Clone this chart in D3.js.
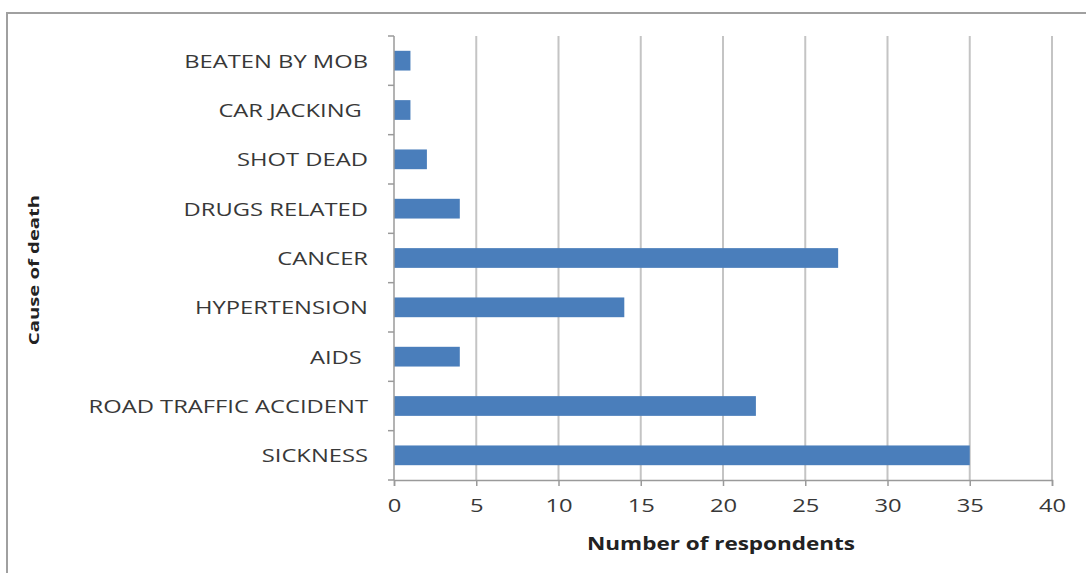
<!DOCTYPE html>
<html>
<head>
<meta charset="utf-8">
<script src="https://cdn.jsdelivr.net/npm/d3@7"></script>
<style>
  body { margin: 0; background: #fff; }
  svg text { font-family: "Open Sans", "Liberation Sans", sans-serif; }
</style>
</head>
<body>
<div id="chart"></div>
<script>
// data, top to bottom as drawn
const causes = ["BEATEN BY MOB", "CAR JACKING ", "SHOT DEAD", "DRUGS RELATED", "CANCER",
                "HYPERTENSION", "AIDS ", "ROAD TRAFFIC ACCIDENT", "SICKNESS"];
const respondents = [1, 1, 2, 4, 27, 14, 4, 22, 35];
const xTicks = [0, 5, 10, 15, 20, 25, 30, 35, 40];

const dims = { width: 1086, height: 573 };
const margin = { top: 36, right: 34, bottom: 93, left: 394 };
const plotW = dims.width - margin.left - margin.right;
const plotH = dims.height - margin.top - margin.bottom;
const stretch = 1.25; // the source picture is widened horizontally

var svg = d3.select("#chart")
            .append("svg")
            .attr("width", dims.width)
            .attr("height", dims.height);

// outer frame
svg.append("rect")
   .attr("x", 7).attr("y", 13)
   .attr("width", dims.width + 10).attr("height", dims.height + 10)
   .attr("fill", "none")
   .attr("stroke", "#a0a0a0")
   .attr("stroke-width", 2);

var g = svg.append("g").attr("transform", `translate(${margin.left},${margin.top})`);

var x = d3.scaleLinear().domain([0, 40]).range([0, plotW]);
var y = d3.scaleBand().domain(causes).range([0, plotH]).paddingInner(0.6).paddingOuter(0.3);
var yEdge = d3.scaleLinear().domain([0, causes.length]).range([0, plotH]);

// vertical gridlines
g.selectAll(".grid").data(xTicks.slice(1)).enter().append("line")
  .attr("x1", d => x(d)).attr("x2", d => x(d))
  .attr("y1", 0).attr("y2", plotH)
  .attr("stroke", "#c4c4c4").attr("stroke-width", 2);

// bars
g.selectAll(".bar").data(respondents).enter().append("rect")
  .attr("x", x(0))
  .attr("y", (d, i) => y(causes[i]))
  .attr("width", d => x(d) - x(0))
  .attr("height", y.bandwidth())
  .attr("fill", "#4a7ebb");

// y axis line + ticks on category borders
g.append("line")
  .attr("x1", 0).attr("x2", 0).attr("y1", 0).attr("y2", plotH)
  .attr("stroke", "#9a9a9a").attr("stroke-width", 1.5);
g.selectAll(".ytick").data(d3.range(causes.length + 1)).enter().append("line")
  .attr("x1", -6).attr("x2", 0)
  .attr("y1", d => yEdge(d)).attr("y2", d => yEdge(d))
  .attr("stroke", "#9a9a9a").attr("stroke-width", 1.5);

// category labels
g.selectAll(".ylab").data(causes).enter().append("text")
  .attr("transform", d => `translate(-26,${y(d) + y.bandwidth() / 2}) scale(${stretch},1)`)
  .attr("dy", "0.36em")
  .attr("text-anchor", "end")
  .style("white-space", "pre")
  .attr("font-size", 19)
  .attr("fill", "#383838")
  .text(d => d);

// x axis
var xAxis = g.append("g").attr("transform", `translate(0,${plotH})`)
  .call(d3.axisBottom(x).tickValues(xTicks).tickSize(6).tickPadding(13));
xAxis.select(".domain").attr("stroke", "#9a9a9a").attr("stroke-width", 1.5);
xAxis.selectAll(".tick line").attr("stroke", "#9a9a9a").attr("stroke-width", 1.5);
xAxis.selectAll(".tick text")
  .attr("font-size", 19)
  .attr("font-family", "Open Sans")
  .attr("transform", `scale(${stretch},1)`)
  .style("fill", "#383838");
// keep the stretched tick labels centred on their ticks
xAxis.selectAll(".tick text").attr("x", 0);

// axis titles
svg.append("text")
  .attr("transform", `translate(${margin.left + plotW / 2 - 2},550) scale(${stretch},1)`)
  .attr("text-anchor", "middle")
  .attr("font-size", 18)
  .attr("font-weight", "bold")
  .attr("fill", "#222")
  .text("Number of respondents");

svg.append("text")
  .attr("transform", `translate(39,270) rotate(-90) scale(1.35,1)`)
  .attr("text-anchor", "middle")
  .attr("font-size", 15)
  .attr("font-weight", "bold")
  .attr("fill", "#222")
  .text("Cause of death");
</script>
</body>
</html>
